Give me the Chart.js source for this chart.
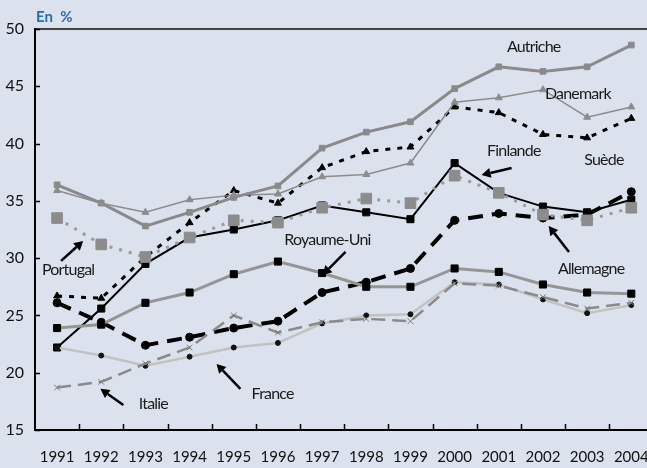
<!DOCTYPE html>
<html lang="fr">
<head>
  <meta charset="UTF-8">
  <title>Taux de prélèvements</title>
  <script src="https://cdn.jsdelivr.net/npm/chart.js"></script>
  <style>
    html, body { margin: 0; padding: 0; overflow: hidden; background: #dce1ee; }
    #wrap { width: 667px; height: 468px; }
  </style>
</head>
<body>
  <div id="wrap">
    <canvas id="lineChart" width="667" height="468"></canvas>
  </div>

<script>
  // values (en %)
  const years = ['1991','1992','1993','1994','1995','1996','1997','1998','1999','2000','2001','2002','2003','2004'];
  const autriche   = [36.4, 34.8, 32.8, 34.0, 35.3, 36.3, 39.6, 41.0, 41.9, 44.8, 46.7, 46.3, 46.7, 48.6];
  const danemark   = [35.9, 34.8, 34.0, 35.1, 35.5, 35.6, 37.1, 37.3, 38.3, 43.6, 44.0, 44.7, 42.3, 43.2];
  const suede      = [26.7, 26.5, 30.1, 33.1, 35.9, 34.8, 37.9, 39.3, 39.7, 43.2, 42.7, 40.8, 40.5, 42.2];
  const finlande   = [22.2, 25.6, 29.5, 31.8, 32.5, 33.3, 34.6, 34.0, 33.4, 38.3, 35.7, 34.5, 34.0, 35.1];
  const portugal   = [33.5, 31.2, 30.1, 31.8, 33.3, 33.1, 34.4, 35.2, 34.8, 37.2, 35.7, 33.8, 33.3, 34.4];
  const royaumeUni = [23.9, 24.2, 26.1, 27.0, 28.6, 29.7, 28.7, 27.5, 27.5, 29.1, 28.8, 27.7, 27.0, 26.9];
  const france     = [22.2, 21.5, 20.6, 21.4, 22.2, 22.6, 24.3, 25.0, 25.1, 27.9, 27.7, 26.4, 25.2, 25.9];
  const italie     = [18.7, 19.2, 20.8, 22.2, 25.0, 23.5, 24.4, 24.7, 24.5, 27.8, 27.6, 26.6, 25.6, 26.1];
  const allemagne  = [26.1, 24.4, 22.4, 23.1, 23.9, 24.5, 27.0, 27.9, 29.1, 33.3, 33.9, 33.5, 33.8, 35.8];
  const yTicks = [15, 20, 25, 30, 35, 40, 45, 50];

  // country labels, in data units (x = year index, y = value)
  const labels = [
    { text: 'Autriche',    x: 10.79, y: 48.4 },
    { text: 'Danemark',    x: 11.79, y: 44.3 },
    { text: 'Finlande',    x: 10.34, y: 39.4 },
    { text: 'Suède',       x: 12.38, y: 38.6 },
    { text: 'Royaume-Uni', x: 6.12,  y: 31.6 },
    { text: 'Allemagne',   x: 12.09, y: 29.1 },
    { text: 'Portugal',    x: 0.25,  y: 29.0 },
    { text: 'Italie',      x: 2.18,  y: 17.3 },
    { text: 'France',      x: 4.88,  y: 18.15 }
  ];
  // arrows: tail -> head
  const arrows = [
    { x1: 0.09,  y1: 29.76, x2: 0.59,  y2: 31.5 },
    { x1: 6.53,  y1: 30.54, x2: 6.01,  y2: 28.53 },
    { x1: 10.29, y1: 37.87, x2: 9.61,  y2: 37.26 },
    { x1: 11.59, y1: 30.54, x2: 11.13, y2: 32.8 },
    { x1: 1.50,  y1: 17.19, x2: 0.98,  y2: 18.59 },
    { x1: 4.15,  y1: 18.59, x2: 3.61,  y2: 20.77 }
  ];

  const FONT = 'Lato, "Open Sans", sans-serif';

  const decorPlugin = {
    id: 'decor',
    afterDraw(chart) {
      const ctx = chart.ctx;
      const xs = chart.scales.x, ys = chart.scales.y;
      const area = chart.chartArea;
      ctx.save();

      // inward tick marks
      ctx.strokeStyle = '#000';
      ctx.lineWidth = 1.5;
      ctx.beginPath();
      yTicks.forEach(v => {
        const py = Math.round(ys.getPixelForValue(v)) + 0.5;
        ctx.moveTo(area.left, py);
        ctx.lineTo(area.left + 5, py);
      });
      for (let i = 1; i < years.length; i++) {
        const px = Math.round((xs.getPixelForValue(i - 1) + xs.getPixelForValue(i)) / 2) + 0.5;
        ctx.moveTo(px, area.bottom);
        ctx.lineTo(px, area.bottom - 6);
      }
      ctx.stroke();

      // title
      ctx.fillStyle = '#2a6cae';
      ctx.font = 'bold 15px ' + FONT;
      ctx.textBaseline = 'middle';
      ctx.textAlign = 'left';
      ctx.fillText('En  %', 36, 17);

      // labels
      ctx.fillStyle = '#1a1a1a';
      ctx.font = '16px ' + FONT;
      ctx.letterSpacing = '-0.8px';
      ctx.textAlign = 'center';
      labels.forEach(l => {
        ctx.fillText(l.text, xs.getPixelForValue(l.x), ys.getPixelForValue(l.y));
      });

      // arrows
      ctx.strokeStyle = '#000';
      ctx.fillStyle = '#000';
      ctx.lineWidth = 2.5;
      arrows.forEach(a => {
        const x1 = xs.getPixelForValue(a.x1), y1 = ys.getPixelForValue(a.y1);
        const x2 = xs.getPixelForValue(a.x2), y2 = ys.getPixelForValue(a.y2);
        const ang = Math.atan2(y2 - y1, x2 - x1);
        const hl = 9, hw = 5;
        const bx = x2 - hl * Math.cos(ang), by = y2 - hl * Math.sin(ang);
        ctx.beginPath();
        ctx.moveTo(x1, y1);
        ctx.lineTo(bx, by);
        ctx.stroke();
        ctx.beginPath();
        ctx.moveTo(x2, y2);
        ctx.lineTo(bx + hw * Math.sin(ang), by - hw * Math.cos(ang));
        ctx.lineTo(bx - hw * Math.sin(ang), by + hw * Math.cos(ang));
        ctx.closePath();
        ctx.fill();
      });
      ctx.restore();
    }
  };

  function line(label, data, color, width, dash, pointStyle, radius, pointColor) {
    return {
      label: label,
      data: data,
      borderColor: color,
      borderWidth: width,
      borderDash: dash,
      pointStyle: pointStyle,
      pointRadius: radius,
      pointBackgroundColor: pointColor,
      pointBorderColor: pointColor,
      pointBorderWidth: 1,
      tension: 0,
      fill: false
    };
  }

  new Chart(document.getElementById('lineChart').getContext('2d'), {
    type: 'line',
    data: {
      labels: years,
      datasets: [
        line('Italie', italie, '#8a8a8a', 2.5, [14, 7], 'crossRot', 4, '#7a7a7a'),
        line('France', france, '#c2c2c2', 2.5, [], 'circle', 2.5, '#111'),
        line('Royaume-Uni', royaumeUni, '#959595', 3, [], 'rect', 5, '#000'),
        line('Portugal', portugal, '#9a9a9a', 3, [3, 7], 'rect', 7.5, '#8c8c8c'),
        line('Danemark', danemark, '#8c8c8c', 1.5, [], 'triangle', 4, '#8c8c8c'),
        line('Autriche', autriche, '#8a8a8a', 3, [], 'rect', 4, '#8a8a8a'),
        line('Suède', suede, '#000', 3, [5, 7], 'triangle', 4, '#000'),
        line('Finlande', finlande, '#000', 2, [], 'rect', 5, '#000'),
        line('Allemagne', allemagne, '#000', 4, [15, 9], 'circle', 4, '#000')
      ]
    },
    options: {
      responsive: false,
      animation: false,
      layout: { padding: { top: 29, right: 3, left: 0, bottom: 0 } },
      plugins: {
        legend: { display: false },
        tooltip: { enabled: false }
      },
      scales: {
        x: {
          offset: true,
          border: { display: true, color: '#000', width: 2 },
          grid: { display: false, drawTicks: false },
          ticks: { color: '#111', padding: 18, font: { family: FONT, size: 15 }, maxRotation: 0 },
          afterFit: s => { s.height = 38; }
        },
        y: {
          min: 15,
          max: 50,
          border: { display: true, color: '#000', width: 2 },
          grid: {
            drawTicks: false,
            lineWidth: 2,
            color: c => c.tick && c.tick.value === 50 ? '#444' : 'rgba(0,0,0,0)'
          },
          ticks: {
            stepSize: 5,
            padding: 11,
            color: '#111',
            font: { family: FONT, size: 16 }
          },
          afterFit: s => { s.width = 35; }
        }
      }
    },
    plugins: [decorPlugin]
  });
</script>
</body>
</html>
